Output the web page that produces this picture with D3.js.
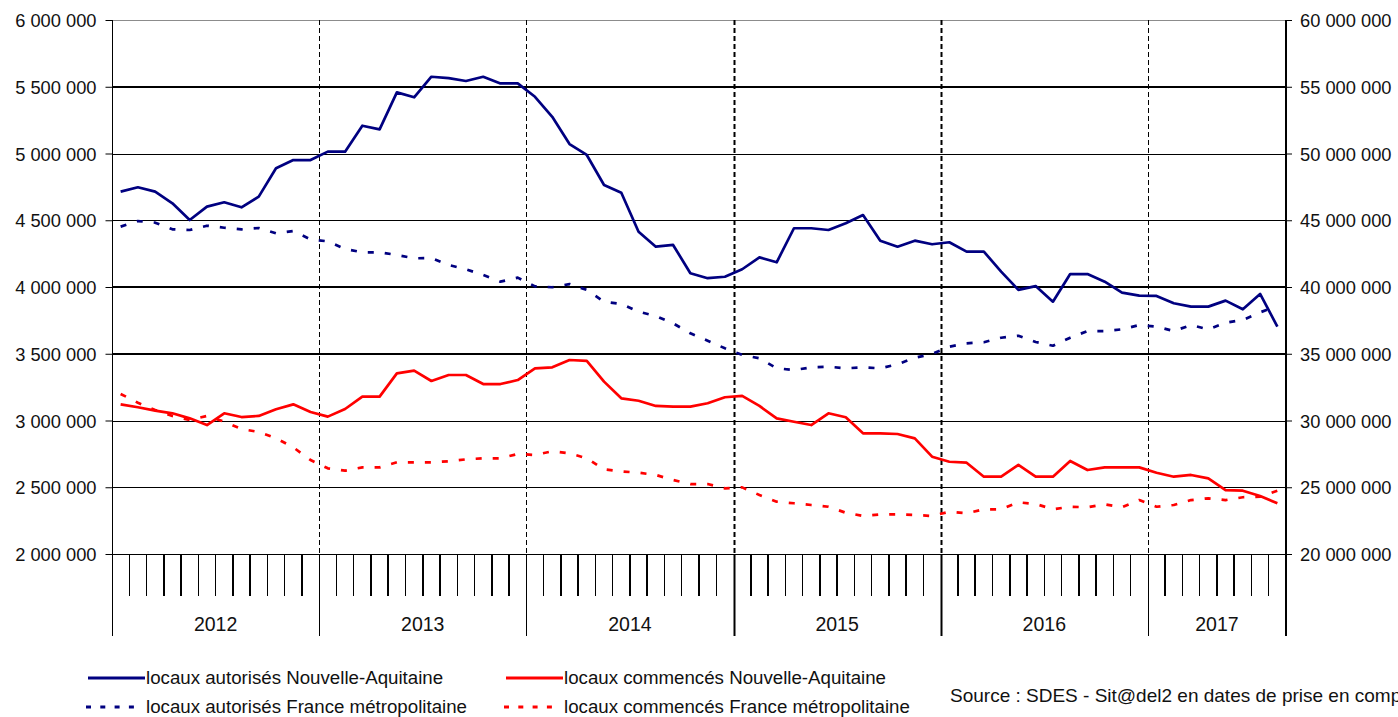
<!DOCTYPE html>
<html>
<head>
<meta charset="utf-8">
<script src="https://cdn.jsdelivr.net/npm/d3@7"></script>
<style>
  html, body { margin: 0; padding: 0; background: #fff; }
  svg { display: block; }
</style>
</head>
<body>
<svg id="chart" width="1398" height="717"></svg>
<script>
// ---------- DATA ----------
const years = [2012, 2013, 2014, 2015, 2016, 2017];
const monthsPerYear = [12, 12, 12, 12, 12, 8];

// locaux autorisés Nouvelle-Aquitaine (m², left axis)
const autorisesNA = [
  4714000,4747000,4714000,4627000,4502000,4602000,4635000,4597000,4677000,4889000,4951000,4951000,
  5014000,5014000,5208000,5181000,5458000,5421000,5575000,5565000,5543000,5575000,5525000,5525000,
  5425000,5275000,5071000,4989000,4764000,4706000,4414000,4302000,4315000,4103000,4066000,4077000,
  4133000,4222000,4185000,4440000,4440000,4427000,4477000,4539000,4347000,4302000,4347000,4320000,
  4335000,4265000,4265000,4115000,3978000,4007000,3890000,4097000,4097000,4040000,3958000,3935000,
  3933000,3878000,3853000,3853000,3898000,3833000,3948000,3703000
];
// locaux commencés Nouvelle-Aquitaine (left axis)
const commencesNA = [
  3121000,3099000,3074000,3054000,3016000,2966000,3054000,3026000,3034000,3084000,3121000,3064000,
  3029000,3086000,3179000,3179000,3353000,3373000,3296000,3341000,3341000,3273000,3273000,3303000,
  3391000,3398000,3453000,3446000,3291000,3166000,3148000,3109000,3104000,3104000,3129000,3174000,
  3184000,3109000,3016000,2991000,2966000,3054000,3024000,2904000,2904000,2899000,2866000,2729000,
  2691000,2684000,2579000,2579000,2667000,2579000,2579000,2697000,2629000,2649000,2649000,2649000,
  2609000,2579000,2592000,2567000,2479000,2474000,2434000,2380000
];
// locaux autorisés France métropolitaine (right axis)
const autorisesFR = [
  44520000,44940000,44820000,44320000,44270000,44590000,44440000,44320000,44420000,44020000,44190000,43570000,
  43420000,42850000,42600000,42600000,42400000,42150000,42170000,41650000,41330000,40900000,40400000,40700000,
  40050000,39980000,40220000,39780000,38900000,38730000,38150000,37830000,37280000,36530000,35980000,35410000,
  34910000,34660000,33910000,33780000,33980000,34030000,33910000,33980000,33910000,34210000,34700000,34980000,
  35530000,35780000,35860000,36200000,36350000,35880000,35600000,36200000,36700000,36700000,36830000,37150000,
  37030000,36700000,37150000,36830000,37330000,37530000,38100000,38580000
];
// locaux commencés France métropolitaine (right axis)
const commencesFR = [
  31990000,31330000,30790000,30340000,30040000,30340000,29910000,29360000,29140000,28670000,27990000,27040000,
  26420000,26240000,26490000,26490000,26870000,26870000,26870000,26940000,27090000,27170000,27170000,27490000,
  27420000,27690000,27540000,27170000,26340000,26190000,26090000,25920000,25540000,25240000,25240000,24920000,
  24990000,24420000,23920000,23800000,23670000,23540000,23090000,22850000,22970000,22970000,22920000,22850000,
  23170000,23050000,23350000,23350000,23870000,23750000,23350000,23540000,23500000,23720000,23500000,24040000,
  23540000,23670000,24040000,24170000,24040000,24250000,24290000,24740000
];

const leftTicks = [2000000,2500000,3000000,3500000,4000000,4500000,5000000,5500000,6000000];
const rightTicks = [20000000,25000000,30000000,35000000,40000000,45000000,50000000,55000000,60000000];
const thickGrid = [3500000, 4000000, 5500000];

const seriesLabels = [
  "locaux autorisés Nouvelle-Aquitaine",
  "locaux commencés Nouvelle-Aquitaine",
  "locaux autorisés France métropolitaine",
  "locaux commencés France métropolitaine"
];
const sourceText = "Source : SDES - Sit@del2 en dates de prise en compte";

// ---------- BUILD CATEGORIES ----------
const months = [];
years.forEach((y, i) => {
  for (let m = 1; m <= monthsPerYear[i]; m++) months.push(y + "-" + String(m).padStart(2, "0"));
});

// ---------- LAYOUT ----------
const svg = d3.select("#chart");
const L = 112, R = 1286, T = 20, B = 554;
const axisBottom = 636, tickBottom = 596;

const x = d3.scaleBand().domain(months).range([L, R]).paddingInner(0).paddingOuter(0);
const yL = d3.scaleLinear().domain([2000000, 6000000]).range([B, T]);
const yR = d3.scaleLinear().domain([20000000, 60000000]).range([B, T]);

const loc = d3.formatLocale({ decimal: ",", thousands: " ", grouping: [3], currency: ["", " €"] });
const fmt = loc.format(",d");

const NAVY = "#000080", RED = "#ff0000";
const labelFont = "'Liberation Sans', Arial, sans-serif";

// top border
svg.append("line").attr("x1", L).attr("x2", R).attr("y1", T + 0.5).attr("y2", T + 0.5)
  .attr("stroke", "#8c8c8c").attr("stroke-width", 1);

// horizontal gridlines
const grid = svg.append("g");
leftTicks.filter(v => v !== 6000000).forEach(v => {
  const thick = thickGrid.includes(v);
  const yy = Math.round(yL(v)) + (thick ? 0 : 0.5);
  grid.append("line").attr("x1", L).attr("x2", R).attr("y1", yy).attr("y2", yy)
    .attr("stroke", "#000").attr("stroke-width", thick ? 2.2 : 1);
});

// year dashed separators inside the plot
const yearStarts = years.slice(1).map(y => y + "-01");
const thickYears = ["2015-01", "2016-01"];
yearStarts.forEach(c => {
  const xx = Math.round(x(c)) + 0.5;
  svg.append("line").attr("x1", xx).attr("x2", xx).attr("y1", T).attr("y2", B)
    .attr("stroke", "#000").attr("stroke-width", thickYears.includes(c) ? 2 : 1)
    .attr("stroke-dasharray", "5,3");
  svg.append("line").attr("x1", xx).attr("x2", xx).attr("y1", B).attr("y2", axisBottom)
    .attr("stroke", "#000").attr("stroke-width", thickYears.includes(c) ? 2 : 1);
});

// month ticks
months.forEach((c, i) => {
  if (i === 0 || c.endsWith("-01")) return;
  const xx = x(c);
  svg.append("line").attr("x1", xx).attr("x2", xx).attr("y1", B).attr("y2", tickBottom)
    .attr("stroke", "#000").attr("stroke-width", 1.5).attr("shape-rendering", "crispEdges");
});

// left axis
const gL = svg.append("g").attr("transform", `translate(${L + 0.5},0)`)
  .call(d3.axisLeft(yL).tickValues(leftTicks).tickFormat(fmt).tickSize(7).tickPadding(9));
gL.select(".domain").remove();
gL.append("line").attr("x1", 0).attr("x2", 0).attr("y1", T).attr("y2", axisBottom).attr("stroke", "#000");
gL.selectAll(".tick line").attr("stroke", "#000");
gL.selectAll(".tick text").attr("font-family", labelFont).attr("font-size", "18.3px").attr("fill", "#111").attr("dy", "0.36em");

// right axis
const gR = svg.append("g").attr("transform", `translate(${R},0)`)
  .call(d3.axisRight(yR).tickValues(rightTicks).tickFormat(fmt).tickSize(6).tickPadding(8));
gR.select(".domain").remove();
gR.append("line").attr("x1", 0).attr("x2", 0).attr("y1", T).attr("y2", axisBottom).attr("stroke", "#000").attr("stroke-width", 2);
gR.selectAll(".tick line").attr("stroke", "#000");
gR.selectAll(".tick text").attr("font-family", labelFont).attr("font-size", "18.3px").attr("fill", "#111").attr("dy", "0.36em");

// year labels
years.forEach((y, i) => {
  const first = y + "-01";
  const lastIdx = months.indexOf(first) + monthsPerYear[i] - 1;
  const x0 = x(first), x1 = x(months[lastIdx]) + x.bandwidth();
  svg.append("text").attr("x", (x0 + x1) / 2).attr("y", 631)
    .attr("text-anchor", "middle").attr("font-family", labelFont).attr("font-size", "19.5px")
    .attr("fill", "#111").text(y);
});

// ---------- SERIES ----------
const cx = c => x(c) + x.bandwidth() / 2;
const lineL = d3.line().x((d, i) => cx(months[i])).y(d => yL(d));
const lineR = d3.line().x((d, i) => cx(months[i])).y(d => yR(d));

const series = [
  { data: autorisesFR, line: lineR, color: NAVY, dash: "6,11" },
  { data: commencesFR, line: lineR, color: RED, dash: "6,11" },
  { data: commencesNA, line: lineL, color: RED, dash: null },
  { data: autorisesNA, line: lineL, color: NAVY, dash: null }
];
series.forEach(s => {
  svg.append("path").attr("d", s.line(s.data)).attr("fill", "none")
    .attr("stroke", s.color).attr("stroke-width", 2.7)
    .attr("stroke-linejoin", "round")
    .attr("stroke-dasharray", s.dash);
});

// ---------- LEGEND ----------
const legend = [
  { label: seriesLabels[0], color: NAVY, dash: null, x: 88, y: 678 },
  { label: seriesLabels[1], color: RED, dash: null, x: 506, y: 678 },
  { label: seriesLabels[2], color: NAVY, dash: "5,9.3", x: 86, y: 707 },
  { label: seriesLabels[3], color: RED, dash: "5,9.3", x: 504, y: 707 }
];
legend.forEach(l => {
  svg.append("line").attr("x1", l.x).attr("x2", l.x + 57).attr("y1", l.y).attr("y2", l.y)
    .attr("stroke", l.color).attr("stroke-width", 3).attr("stroke-dasharray", l.dash);
  svg.append("text").attr("x", l.x + (l.dash ? 60 : 58)).attr("y", l.y + 5.5)
    .attr("font-family", labelFont).attr("font-size", "18.7px").attr("fill", "#111").text(l.label);
});
svg.append("text").attr("x", 950).attr("y", 701.5)
  .attr("font-family", labelFont).attr("font-size", "19px").attr("fill", "#111").text(sourceText);
</script>
</body>
</html>
